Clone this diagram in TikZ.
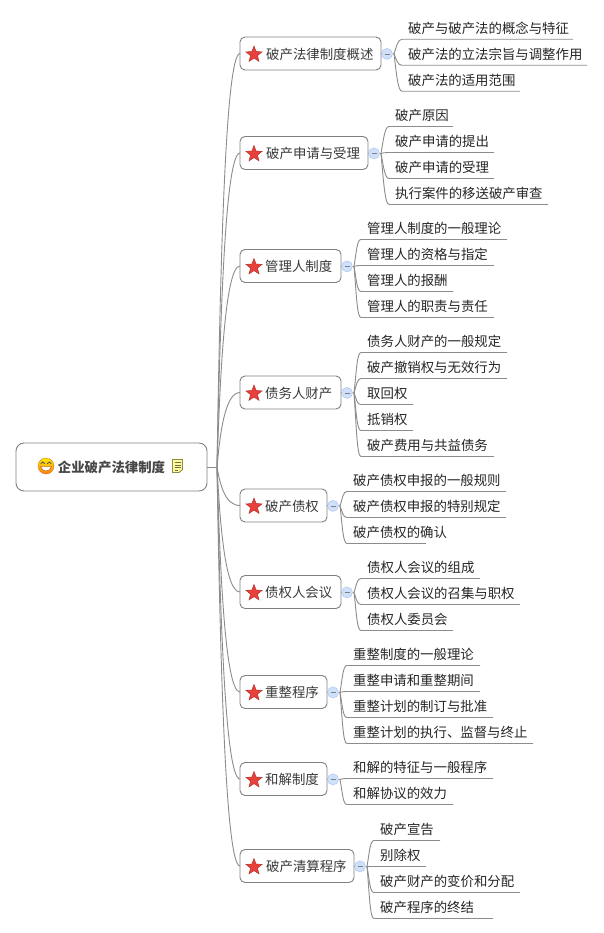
\documentclass[tikz,border=0pt]{standalone}
\usepackage{fontspec}
\setmainfont{Noto Sans CJK SC}
\usetikzlibrary{shapes.geometric}
\definecolor{linegray}{HTML}{8C8C8C}
\definecolor{boxedge}{HTML}{808080}
\definecolor{txt}{HTML}{3A3A3A}
\definecolor{starred}{HTML}{E8403A}
\definecolor{staredge}{HTML}{B8322C}
\definecolor{togglefill}{HTML}{CFE0FA}
\definecolor{toggleedge}{HTML}{B4CCF0}
\tikzset{
  link/.style={draw=linegray,line width=0.9pt},
  rootbox/.style={draw=boxedge,line width=0.9pt,rounded corners=8pt,fill=white,anchor=west,minimum width=191pt,minimum height=48pt,inner sep=0pt,outer sep=0pt},
  mainbox/.style={draw=boxedge,line width=0.9pt,rounded corners=5pt,fill=white,anchor=west,minimum height=33pt,inner sep=0pt,outer sep=0pt},
  redstar/.style={star,star points=5,star point ratio=2.35,minimum size=17pt,inner sep=0pt,draw=staredge,line width=0.5pt,fill=starred},
  toggle/.style={circle,minimum size=11pt,inner sep=0pt,outer sep=0pt,fill=togglefill,draw=toggleedge,line width=0.6pt},
  branchtext/.style={anchor=west,inner sep=0pt,text=txt,font=\fontsize{13.4pt}{13.4pt}\selectfont},
  leaftext/.style={anchor=west,inner sep=0pt,text=black!85,font=\fontsize{13.4pt}{13.4pt}\selectfont},
  roottext/.style={anchor=center,inner sep=0pt,text=black!72,font=\fontsize{13.4pt}{14pt}\selectfont\bfseries}
}
% branch: id, right edge, centre y, text, text x
\newcommand\mybranch[5]{%
  \node[mainbox,minimum width=#2pt-240pt] (b#1) at (240,#3) {};
  \node[redstar] (s#1) at (254,#3+1) {};
  \node[branchtext] (t#1) at (#5,#3+.6) {#4};
  \node[toggle] (c#1) at (#2+6,#3+.4) {};
  \draw[black!50,line width=0.6pt] ([xshift=-2.5pt]c#1.center) -- ([xshift=2.5pt]c#1.center);
  \draw[link] (rootc) .. controls +(3,{(#3-467)*.45}) and (225,#3) .. (b#1.west);
  \coordinate (h#1) at (#2+13,#3+.4);
  \draw[link] (b#1.east) -- (c#1.west);
  \draw[link] (c#1.east) -- (h#1);
}
% leaf: branch id, leaf id, text x, underline y, right end, text
\newcommand\myleaf[6]{%
  \node[leaftext] (l#1#2) at (#3,#4-10.8) {#6};
  \coordinate (la#1#2) at (#3-6,#4);
  \coordinate (lb#1#2) at (#5,#4);
  \draw[link] (h#1) .. controls +(2.5,{(#4-\pgfkeysvalueof{/tikz/cyval})*.55}) and ([xshift=-4pt]la#1#2) .. (la#1#2) -- (lb#1#2);
}
\pgfkeyssetvalue{/tikz/cyval}{0}
\begin{document}
\begin{tikzpicture}[x=1pt,y=-1pt]
\useasboundingbox (0,0) rectangle (603,933);
\fill[white] (0,0) rectangle (603,933);
\coordinate (rootc) at (217,467);

\pgfkeyssetvalue{/tikz/cyval}{53.7}
\mybranch{1}{381}{53.5}{破产法律制度概述}{266}
\myleaf{1}{a}{408}{39.3}{573}{破产与破产法的概念与特征}
\myleaf{1}{b}{408}{65.3}{587}{破产法的立法宗旨与调整作用}
\myleaf{1}{c}{408}{91.3}{520}{破产法的适用范围}

\pgfkeyssetvalue{/tikz/cyval}{153.4}
\mybranch{2}{368}{153}{破产申请与受理}{266}
\myleaf{2}{a}{395}{126.5}{453}{破产原因}
\myleaf{2}{b}{395}{152.5}{494}{破产申请的提出}
\myleaf{2}{c}{395}{178.5}{494}{破产申请的受理}
\myleaf{2}{d}{395}{204.5}{548}{执行案件的移送破产审查}

\pgfkeyssetvalue{/tikz/cyval}{266.4}
\mybranch{3}{341}{266}{管理人制度}{265}
\myleaf{3}{a}{367}{239.5}{507}{管理人制度的一般理论}
\myleaf{3}{b}{367}{265.5}{494}{管理人的资格与指定}
\myleaf{3}{c}{367}{291.5}{453}{管理人的报酬}
\myleaf{3}{d}{367}{317.5}{494}{管理人的职责与责任}

\pgfkeyssetvalue{/tikz/cyval}{392.4}
\mybranch{4}{341}{392.5}{债务人财产}{265}
\myleaf{4}{a}{367}{352.5}{507}{债务人财产的一般规定}
\myleaf{4}{b}{367}{378.5}{507}{破产撤销权与无效行为}
\myleaf{4}{c}{367}{404.5}{413}{取回权}
\myleaf{4}{d}{367}{430.5}{413}{抵销权}
\myleaf{4}{e}{367}{456.5}{494}{破产费用与共益债务}

\pgfkeyssetvalue{/tikz/cyval}{505.4}
\mybranch{5}{327}{505.5}{破产债权}{265}
\myleaf{5}{a}{353}{491.5}{506}{破产债权申报的一般规则}
\myleaf{5}{b}{353}{517.5}{506}{破产债权申报的特别规定}
\myleaf{5}{c}{353}{543.5}{426}{破产债权的确认}

\pgfkeyssetvalue{/tikz/cyval}{592.4}
\mybranch{6}{341}{592}{债权人会议}{265}
\myleaf{6}{a}{367}{578.5}{480}{债权人会议的组成}
\myleaf{6}{b}{367}{604.5}{520}{债权人会议的召集与职权}
\myleaf{6}{c}{367}{630.5}{453}{债权人委员会}

\pgfkeyssetvalue{/tikz/cyval}{692.4}
\mybranch{7}{327}{692}{重整程序}{265}
\myleaf{7}{a}{353}{665.5}{480}{重整制度的一般理论}
\myleaf{7}{b}{353}{691.5}{480}{重整申请和重整期间}
\myleaf{7}{c}{353}{717.5}{493}{重整计划的制订与批准}
\myleaf{7}{d}{353}{743.5}{533}{重整计划的执行、监督与终止}

\pgfkeyssetvalue{/tikz/cyval}{779.4}
\mybranch{8}{327}{779}{和解制度}{265}
\myleaf{8}{a}{353}{778.5}{493}{和解的特征与一般程序}
\myleaf{8}{b}{353}{804.5}{453}{和解协议的效力}

\pgfkeyssetvalue{/tikz/cyval}{866.4}
\mybranch{9}{354}{866}{破产清算程序}{266}
\myleaf{9}{a}{380}{840.5}{440}{破产宣告}
\myleaf{9}{b}{380}{866.5}{426}{别除权}
\myleaf{9}{c}{380}{892.5}{520}{破产财产的变价和分配}
\myleaf{9}{d}{380}{918.5}{493}{破产程序的终结}

% root
\node[rootbox] (root) at (16,467) {};
\draw[link] (root.east) -- (rootc);
\node[roottext] (roottitle) at (111.5,467) {企业破产法律制度};
% smiley
\shade[top color=yellow!85!orange,bottom color=orange!85!red!90!white,draw=orange!80!black,line width=0.3pt] (46,466) circle (8);
\draw[black!65,line width=0.9pt,line cap=round] (41,463.5) .. controls (42,461.5) and (43.5,461.5) .. (44.5,463.5);
\draw[black!65,line width=0.9pt,line cap=round] (47.5,463.5) .. controls (48.5,461.5) and (50,461.5) .. (51,463.5);
\fill[white,draw=orange!60!black,line width=0.4pt] (40.5,466.5) .. controls (42,472.5) and (50,472.5) .. (51.5,466.5) -- cycle;
% note icon
\draw[fill=yellow!40!white,draw=yellow!50!black,line width=0.9pt] (172.5,459.5) -- (182.5,459.5) -- (182.5,469.5) -- (179,472.5) -- (172.5,472.5) -- cycle;
\draw[yellow!35!black,line width=0.6pt] (174.5,462.5) -- (180.5,462.5) (174.5,465) -- (180.5,465) (174.5,467.5) -- (180.5,467.5) (174.5,470) -- (178,470);
\end{tikzpicture}
\end{document}
